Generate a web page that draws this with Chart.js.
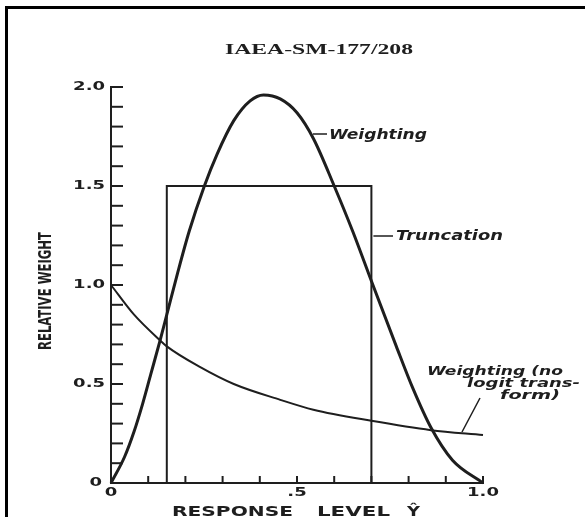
<!DOCTYPE html>
<html>
<head>
<meta charset="utf-8">
<script src="https://cdn.jsdelivr.net/npm/chart.js@4.4.0/dist/chart.umd.min.js"></script>
<style>
  html, body { margin: 0; padding: 0; background: #fff; }
  #wrap { width: 585px; height: 517px; }
</style>
</head>
<body>
<div id="wrap"><canvas id="weightChart" width="585" height="517"></canvas></div>
<script>
// values
const weightX = [0, 0.036, 0.062, 0.085, 0.107, 0.132, 0.15, 0.179, 0.21, 0.251, 0.285, 0.33, 0.374, 0.41, 0.455, 0.5, 0.544, 0.6, 0.65, 0.7, 0.767, 0.811, 0.86, 0.918, 1.0];
const weightY = [0, 0.13, 0.26, 0.40, 0.55, 0.72, 0.85, 1.06, 1.27, 1.50, 1.66, 1.83, 1.93, 1.96, 1.94, 1.87, 1.74, 1.50, 1.27, 1.02, 0.69, 0.48, 0.28, 0.115, 0];

const noLogitX = [0, 0.062, 0.132, 0.15, 0.24, 0.33, 0.455, 0.544, 0.7, 0.86, 1.0];
const noLogitY = [1.0, 0.85, 0.72, 0.69, 0.585, 0.50, 0.42, 0.37, 0.314, 0.267, 0.243];

const truncX = [0.15, 0.15, 0.7, 0.7];
const truncY = [0, 1.5, 1.5, 0];

const yLabelValues = [0, 0.5, 1.0, 1.5, 2.0];
const yLabels = ['0', '0.5', '1.0', '1.5', '2.0'];
const xLabelValues = [0, 0.5, 1.0];
const xLabels = ['0', '.5', '1.0'];

const chartTitle = 'IAEA-SM-177/208';
const yTitle = 'RELATIVE WEIGHT';
const xTitleWords = ['RESPONSE', 'LEVEL', 'Ŷ'];

const INK = '#1e1e1e';

function toPoints(xs, ys) {
    return xs.map((x, i) => ({ x: x, y: ys[i] }));
}

// draw text squeezed/stretched to a given width
function fitText(ctx, text, left, y, width, font) {
    ctx.font = font;
    const w = ctx.measureText(text).width;
    ctx.save();
    ctx.translate(left, y);
    ctx.scale(width / w, 1);
    ctx.textAlign = 'left';
    ctx.fillText(text, 0, 0);
    ctx.restore();
}

function stretchText(ctx, text, x, y, sx, align, font) {
    ctx.font = font;
    ctx.save();
    ctx.translate(x, y);
    ctx.scale(sx, 1);
    ctx.textAlign = align;
    ctx.fillText(text, 0, 0);
    ctx.restore();
}

function line(ctx, x1, y1, x2, y2, w) {
    ctx.lineWidth = w;
    ctx.beginPath();
    ctx.moveTo(x1, y1);
    ctx.lineTo(x2, y2);
    ctx.stroke();
}

const decorPlugin = {
    id: 'decor',
    afterDraw(chart) {
        const ctx = chart.ctx;
        const xs = chart.scales.x;
        const ys = chart.scales.y;
        const area = chart.chartArea;
        ctx.save();
        ctx.strokeStyle = INK;
        ctx.fillStyle = INK;
        ctx.textBaseline = 'middle';

        // page frame (left and top edges only)
        ctx.strokeStyle = '#000';
        line(ctx, 6.5, 6, 6.5, 517, 3);
        line(ctx, 5, 7.5, 585, 7.5, 3);
        ctx.strokeStyle = INK;

        // inward tick marks
        ys.ticks.forEach(t => {
            const py = ys.getPixelForValue(t.value);
            line(ctx, area.left, py, area.left + 12, py, 2);
        });
        xs.ticks.forEach(t => {
            const px = xs.getPixelForValue(t.value);
            line(ctx, px, area.bottom, px, area.bottom - 7, 2);
        });

        // tick labels
        const tickFont = 'bold 12px "DejaVu Sans"';
        yLabelValues.forEach((v, i) => {
            const py = ys.getPixelForValue(v);
            const right = v === 0 ? area.left - 9 : area.left - 6;
            stretchText(ctx, yLabels[i], right, py, 1.5, 'right', tickFont);
        });
        xLabelValues.forEach((v, i) => {
            const px = xs.getPixelForValue(v);
            stretchText(ctx, xLabels[i], px, area.bottom + 10, 1.5, 'center', tickFont);
        });

        // axis titles
        const xFont = 'bold 14px "DejaVu Sans"';
        fitText(ctx, xTitleWords[0], 172, 512, 121, xFont);
        fitText(ctx, xTitleWords[1], 317, 512, 73, xFont);
        fitText(ctx, xTitleWords[2], 407, 512, 13, xFont);

        ctx.save();
        ctx.translate(47, 291);
        ctx.rotate(-Math.PI / 2);
        fitText(ctx, yTitle, -59, 0, 118, 'bold 17px "DejaVu Sans Condensed"');
        ctx.restore();

        // header
        fitText(ctx, chartTitle, 225, 50, 188, 'bold 15px "Liberation Serif"');

        // curve annotations
        const noteFont = 'bold italic 14px "DejaVu Sans"';
        line(ctx, 313, 134, 327, 134, 1.5);
        fitText(ctx, 'Weighting', 329, 135, 98, noteFont);

        line(ctx, xs.getPixelForValue(0.7) + 2, 236, 393, 236, 1.5);
        fitText(ctx, 'Truncation', 396, 236, 107, noteFont);

        const smallNote = 'bold italic 13px "DejaVu Sans"';
        fitText(ctx, 'Weighting (no', 427, 372, 136, smallNote);
        fitText(ctx, 'logit trans-', 467, 384, 113, smallNote);
        fitText(ctx, 'form)', 500, 396, 60, smallNote);
        line(ctx, 480, 398, 462, 432, 1.5);

        ctx.restore();
    }
};

const ctx = document.getElementById('weightChart').getContext('2d');
new Chart(ctx, {
    type: 'scatter',
    data: {
        datasets: [{
            label: 'Weighting',
            data: toPoints(weightX, weightY),
            showLine: true,
            borderColor: INK,
            borderWidth: 3,
            pointRadius: 0,
            cubicInterpolationMode: 'monotone',
            clip: false
        }, {
            label: 'Weighting (no logit transform)',
            data: toPoints(noLogitX, noLogitY),
            showLine: true,
            borderColor: INK,
            borderWidth: 2,
            pointRadius: 0,
            cubicInterpolationMode: 'monotone',
            clip: false
        }, {
            label: 'Truncation',
            data: toPoints(truncX, truncY),
            showLine: true,
            borderColor: INK,
            borderWidth: 2,
            pointRadius: 0,
            tension: 0,
            clip: false
        }]
    },
    options: {
        responsive: false,
        animation: false,
        devicePixelRatio: 1,
        layout: {
            padding: { left: 111, right: 102, top: 87, bottom: 34 }
        },
        plugins: {
            legend: { display: false },
            tooltip: { enabled: false },
            title: { display: false }
        },
        scales: {
            x: {
                type: 'linear',
                min: 0,
                max: 1,
                ticks: { display: false, stepSize: 0.1, maxTicksLimit: 30, autoSkip: false },
                grid: { display: true, drawOnChartArea: false, drawTicks: false },
                border: { display: true, color: INK, width: 2 },
                afterFit(scale) { scale.height = 0; }
            },
            y: {
                type: 'linear',
                min: 0,
                max: 2,
                ticks: { display: false, stepSize: 0.1, maxTicksLimit: 30, autoSkip: false },
                grid: { display: true, drawOnChartArea: false, drawTicks: false },
                border: { display: true, color: INK, width: 2 },
                afterFit(scale) { scale.width = 0; }
            }
        }
    },
    plugins: [decorPlugin]
});
</script>
</body>
</html>
